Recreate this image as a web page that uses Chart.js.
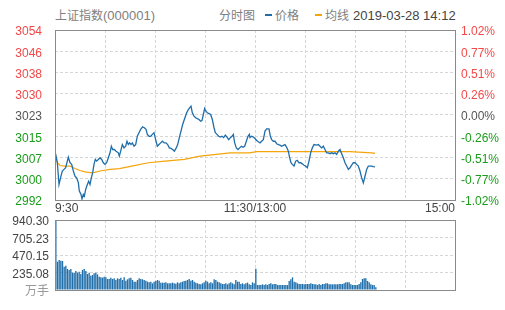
<!DOCTYPE html>
<html>
<head>
<meta charset="utf-8">
<script src="https://cdn.jsdelivr.net/npm/chart.js@4.4.1/dist/chart.umd.min.js"></script>
<style>
  html, body { margin: 0; padding: 0; background: #fff; }
  #wrap { position: relative; width: 505px; height: 310px; overflow: hidden;
          font-family: "Liberation Sans", Arial, "Noto Sans CJK SC", sans-serif; }
  .hd { position: absolute; top: 8px; line-height: 16px; font-size: 13px; color: #808080; white-space: nowrap; }
  .cjk { font-size: 12px; }
  .dash { position: absolute; top: 14px; width: 7px; height: 2px; }
  canvas { position: absolute; left: 0; }
</style>
</head>
<body>
<div id="wrap">
  <div class="hd" style="left:55px"><span class="cjk">上证指数</span>(000001)</div>
  <div class="hd cjk" style="left:219px">分时图</div>
  <div class="dash" style="left:265px;background:#1f6ea9"></div>
  <div class="hd cjk" style="left:275px">价格</div>
  <div class="dash" style="left:315px;background:#f5a50b"></div>
  <div class="hd cjk" style="left:325px">均线</div>
  <div class="hd" style="left:353px;color:#444">2019-03-28 14:12</div>
  <canvas id="chart-price" width="505" height="215" style="top:0"></canvas>
  <canvas id="chart-vol" width="505" height="95" style="top:215px"></canvas>
</div>
<script>
/* ── data (minutes since 9:30, lunch break removed) ─────────────────────── */
const priceMins = [0,1.4,2.4,3.4,4.4,5.4,6.4,7.4,8,9,10,11,12,13,14,14.6,15.6,16.2,17,17.6,18.4,19.4,20.2,21,21.8,22.6,23.4,24.2,25,26,
  27,28,29,30,31,32,33,33.8,34.6,35.6,36.6,38,38.6,39.4,40.4,41.4,42.4,43.2,44,44.8,45.6,46.4,47.4,48.4,49.4,50.4,51.4,52.6,53.6,54.6,
  55.4,56.4,57.4,58.4,59.4,60.4,61.4,62.4,63.4,64.4,65.6,66.6,67.6,68.6,69.6,70.6,71.6,72.6,73.6,74.6,75.6,76.6,77.6,79,80,81,81.6,82.4,83.4,84.4,
  85.4,86.4,87.4,88.2,89,89.8,90.6,91.4,92.4,93.4,94.4,95.4,96.2,97.2,98.2,99.2,100.2,101.2,102.2,103.2,104.2,105.2,106.2,107,107.8,108.8,
  109.8,110.8,111.8,112.8,113.8,114.8,115.8,116.6,117,118,119,120,121,122,123,124,125,126,127,128.4,129.2,130,131,132,133,134,135,136,137,138,
  139,140,140.8,141.6,142.4,143.4,144.4,145.4,146.4,147.4,148.4,149.4,150.4,151.4,152.4,153.4,154.4,155.4,157,158,159,160,161,162,163,164,
  165,166,167,168,169,170,171,172,173,174,175,176,177,178,179,180,181,182,183,184,185,186,187,188,189,190,191,192];
const priceVals = [3009.6,3005.4,2997.5,3000.1,3002.4,3003.0,3003.6,3006.0,3007.4,3005.4,3004.8,3002.4,3000.5,2999.9,2998.2,2995.1,2993.9,2992.3,2993.9,2993.3,
  2995.7,2997.5,2998.7,2997.5,2999.9,3001.8,3004.8,3006.6,3006.0,3006.6,3007.2,3006.6,3005.4,3004.8,3005.4,3007.2,3009.0,3011.4,3010.2,3010.2,
  3009.6,3009.0,3007.8,3009.6,3012.0,3010.8,3011.4,3013.2,3012.0,3012.6,3012.0,3012.6,3011.4,3012.0,3015.0,3016.3,3017.5,3018.4,3018.1,3017.5,
  3015.7,3015.0,3015.0,3015.7,3016.3,3013.8,3011.4,3012.0,3012.6,3013.2,3012.6,3012.6,3012.0,3010.8,3010.6,3010.2,3009.6,3010.6,3012.0,3014.5,
  3016.9,3019.3,3021.1,3023.5,3024.7,3025.5,3025.9,3023.5,3022.3,3021.7,3021.4,3021.1,3020.5,3020.7,3022.9,3025.1,3024.1,3023.5,3023.2,3022.9,
  3021.1,3018.1,3016.3,3015.7,3015.0,3014.7,3015.0,3014.5,3015.4,3014.7,3013.8,3014.5,3015.0,3015.7,3012.6,3010.8,3010.2,3010.8,3011.4,3011.0,
  3011.4,3013.2,3015.0,3015.7,3014.5,3015.0,3014.7,3014.2,3013.5,3013.0,3012.6,3013.2,3013.8,3016.9,3017.7,3017.7,3015.0,3013.8,3013.2,3013.2,
  3012.3,3012.0,3011.8,3011.4,3011.7,3012.0,3011.0,3009.6,3007.2,3005.4,3004.8,3004.2,3006.0,3006.3,3005.4,3005.4,3005.0,3004.5,3004.2,3003.6,
  3006.0,3009.0,3010.8,3012.0,3011.8,3012.0,3011.4,3010.8,3011.4,3010.2,3009.0,3009.0,3008.7,3009.0,3008.7,3009.0,3008.4,3009.6,3010.2,3008.7,
  3007.2,3005.4,3004.2,3003.0,3003.6,3004.5,3005.4,3005.4,3004.8,3004.2,3002.4,2999.9,2998.1,3000.5,3003.0,3004.2,3004.2,3004.2,3004.0,3003.9];

const avgMins = [0,1.4,3,6,9,12,15,18,21,24,27,33,38.6,46,56,66,77.6,87,105,116.6,121,155.4,177,190,192];
const avgVals = [3009.3,3005.4,3004.4,3004.2,3004.2,3003.3,3002.6,3002.1,3001.8,3001.9,3002.4,3003.0,3003.3,3004.2,3005.4,3006.0,3006.6,3007.8,
  3009.0,3009.0,3009.4,3009.4,3009.4,3009.0,3008.8];

// volume per minute, 万手
const volume = [940.3,380,403,394,390,313,327,282,269,282,233,233,255,233,246,215,269,282,255,215,
  233,193,202,224,233,210,179,170,166,179,170,148,148,166,148,157,134,157,148,166,
  134,170,125,143,157,166,134,112,112,134,157,148,143,134,125,112,103,112,90,112,
  121,134,125,99,99,99,103,90,90,90,99,90,85,103,90,103,112,121,125,134,
  148,125,134,112,99,90,81,76,90,103,125,112,90,103,90,143,134,112,103,90,
  81,81,90,76,90,103,90,76,134,112,112,81,90,76,90,99,76,67,103,90,
  285,67,67,67,76,67,76,67,81,90,76,81,81,67,67,67,67,67,67,67,
  121,143,170,112,103,90,81,81,81,76,81,81,81,90,81,76,76,67,81,67,
  81,81,90,90,76,76,76,76,76,76,81,81,81,90,103,103,103,76,67,67,
  67,67,81,103,148,157,157,121,103,76,67,67,36];

const prevClose = 3022.72;
const priceMin  = 2991.89;
const priceMax  = 3053.55;
const priceLabels = ['2992','3000','3007','3015','3023','3030','3038','3046','3054'];
const pctLabels   = ['-1.02%','-0.77%','-0.51%','-0.26%','0.00%','0.26%','0.51%','0.77%','1.02%'];
const volMax    = 940.3;
const volLabels = ['万手','235.08','470.15','705.23','940.30'];
const gridMins  = [0,30,60,90,120,150,180,210,240];
const timeTicks  = [0,120,240];
const timeLabels = ['9:30','11:30/13:00','15:00'];

/* ── styles ─────────────────────────────────────────────────────────────── */
const FONT  = { family: '"Liberation Sans", Arial, "Noto Sans CJK SC", sans-serif', size: 12 };
const BLUE  = '#1f6ea9';
const GOLD  = '#f5a50b';
const RED   = '#f44848';
const GREEN = '#1a9c1a';
const GRID  = { color: '#d6d6d6', drawTicks: false };
const DASH  = { display: false, dash: [3, 2] };

const frame = {
  id: 'frame',
  afterDraw(chart) {
    const { ctx, chartArea: a } = chart;
    ctx.save();
    ctx.strokeStyle = '#8a8a8a';
    ctx.lineWidth = 1;
    ctx.strokeRect(a.left + 0.5, a.top + 0.5, a.right - a.left, a.bottom - a.top);
    ctx.restore();
  },
};

// fixed box sizes, no extra padding for overhanging labels
const fixBox = (w, h) => s => {
  if (w != null) s.width = w;
  if (h != null) s.height = h;
  s.paddingTop = s.paddingBottom = s.paddingLeft = s.paddingRight = 0;
};
const evenTicks = (min, max, n) => s => {
  s.ticks = Array.from({ length: n }, (_, i) => ({ value: min + (max - min) * i / (n - 1) }));
};
const updown = mid => ctx => ctx.index < mid ? GREEN : ctx.index > mid ? RED : '#555';
const timeX = (showLabels, h) => ({
  type: 'linear', min: 0, max: 240, offset: false,
  afterBuildTicks: s => { s.ticks = gridMins.map(v => ({ value: v })); },
  afterFit: fixBox(null, h),
  ticks: {
    autoSkip: false, maxRotation: 0, align: 'inner', padding: 1, color: '#444', font: FONT,
    callback: v => showLabels && timeTicks.includes(v) ? timeLabels[timeTicks.indexOf(v)] : '',
  },
  grid: { ...GRID, offset: false },
  border: DASH,
});

/* ── price chart ────────────────────────────────────────────────────────── */
new Chart(document.getElementById('chart-price'), {
  type: 'line',
  data: {
    datasets: [
      { label: '价格', data: priceMins.map((m, i) => ({ x: m, y: priceVals[i] })),
        borderColor: BLUE, borderWidth: 1.3, pointRadius: 0, tension: 0 },
      { label: '均线', data: avgMins.map((m, i) => ({ x: m, y: avgVals[i] })),
        borderColor: GOLD, borderWidth: 1.2, pointRadius: 0, tension: 0 },
    ],
  },
  options: {
    responsive: false, animation: false, events: [],
    layout: { padding: { top: 30, left: 0, right: 0, bottom: 0 } },
    plugins: { legend: { display: false }, tooltip: { enabled: false } },
    scales: {
      x: timeX(true, 15),
      y: {
        position: 'left', min: priceMin, max: priceMax,
        afterBuildTicks: evenTicks(priceMin, priceMax, 9),
        afterFit: fixBox(55, null),
        ticks: { autoSkip: false, callback: (v, i) => priceLabels[i], color: updown(4), padding: 13, labelOffset: 2, font: FONT },
        grid: GRID, border: DASH,
      },
      y1: {
        position: 'right', min: priceMin, max: priceMax,
        afterBuildTicks: evenTicks(priceMin, priceMax, 9),
        afterFit: fixBox(50, null),
        ticks: { autoSkip: false, callback: (v, i) => pctLabels[i], color: updown(4), padding: 6, labelOffset: 2, font: FONT },
        grid: { display: false, drawTicks: false }, border: { display: false },
      },
    },
  },
  plugins: [frame],
});

/* ── volume chart ───────────────────────────────────────────────────────── */
new Chart(document.getElementById('chart-vol'), {
  type: 'bar',
  data: {
    datasets: [{
      data: volume.map((v, i) => ({ x: i + 0.5, y: v })),
      backgroundColor: BLUE, barPercentage: 0.8, categoryPercentage: 1,
    }],
  },
  options: {
    responsive: false, animation: false, events: [],
    layout: { padding: { top: 5, left: 0, right: 50, bottom: 0 } },
    plugins: { legend: { display: false }, tooltip: { enabled: false } },
    scales: {
      x: timeX(false, 20),
      y: {
        min: 0, max: volMax,
        afterBuildTicks: evenTicks(0, volMax, 5),
        afterFit: fixBox(55, null),
        ticks: { autoSkip: false, callback: (v, i) => volLabels[i], color: c => c.index === 0 ? '#999' : '#444',
                 padding: 6, labelOffset: 2, font: FONT },
        grid: GRID, border: DASH,
      },
    },
  },
  plugins: [frame],
});
</script>
</body>
</html>
